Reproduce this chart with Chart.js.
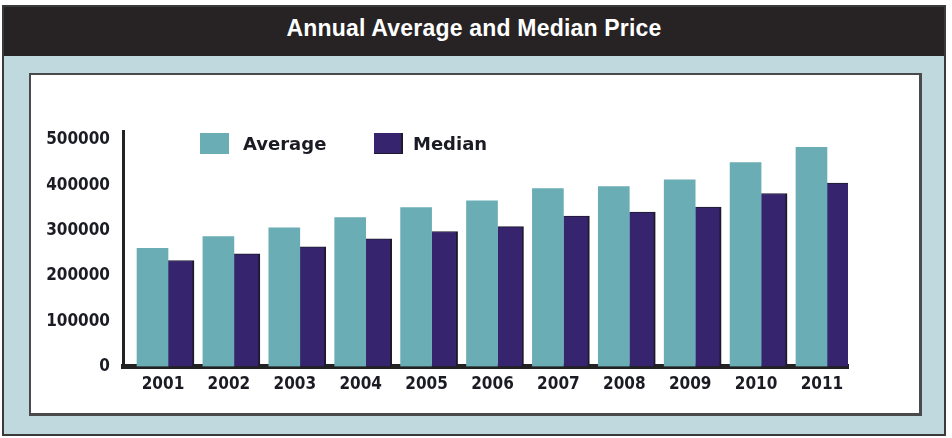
<!DOCTYPE html>
<html>
<head>
<meta charset="utf-8">
<title>Annual Average and Median Price</title>
<script src="https://cdn.jsdelivr.net/npm/chart.js@4"></script>
<style>
  html, body { margin: 0; padding: 0; background: #fff; }
  body { width: 952px; height: 438px; position: relative; overflow: hidden; }
  #frame { position: absolute; left: 2px; top: 5px; width: 940px; height: 427px;
           background: #bfd9de; border: 2px solid #3a3a3a; }
  #header { position: absolute; left: 0; top: 0; width: 940px; height: 49px; background: #272324;
            color: #fff; text-align: center;
            font: bold 23px 'Liberation Sans', Arial, sans-serif; line-height: 42px; letter-spacing: 0.2px; }
  #panel { position: absolute; left: 29px; top: 73px; width: 888px; height: 338px;
           background: #fff; border: 2px solid #4a4a4a; border-right-width: 3px; border-bottom-width: 3px; }
  #wrap { position: absolute; left: 0; top: 0; width: 952px; height: 438px; }
  .legend { position: absolute; top: 133px; height: 21px; display: flex; align-items: center;
            font: bold 18px 'DejaVu Sans', sans-serif; color: #1b1b24; }
  .legend span.box { display: inline-block; width: 29px; height: 21px; margin-right: 14px; }
</style>
</head>
<body>
<div id="frame"><div id="header">Annual Average and Median Price</div></div>
<div id="panel"></div>
<div id="wrap"><canvas id="priceChart"></canvas></div>
<div id="legend"></div>

<script>
const years = [2001, 2002, 2003, 2004, 2005, 2006, 2007, 2008, 2009, 2010, 2011];
const averagePrice = [261000, 287000, 306000, 329000, 351000, 366000, 393000, 397000, 412000, 450000, 484000];
const medianPrice = [234000, 249000, 264000, 282000, 298000, 309000, 332000, 341000, 352000, 382000, 405000];
const seriesNames = ['Average', 'Median'];
const seriesColors = ['#6aadb5', '#36246f'];
const yTicks = [0, 100000, 200000, 300000, 400000, 500000];

const tickFont = { family: "'DejaVu Sans Condensed', 'DejaVu Sans', sans-serif", size: 17, weight: 'bold' };

const ctx = document.getElementById('priceChart').getContext('2d');
const priceChart = new Chart(ctx, {
  type: 'bar',
  data: {
    labels: years,
    datasets: [{
      label: seriesNames[0],
      data: averagePrice,
      backgroundColor: seriesColors[0],
      borderWidth: 0,
      barThickness: 31
    }, {
      label: seriesNames[1],
      data: medianPrice,
      backgroundColor: seriesColors[1],
      borderColor: '#1e1a2c',
      borderWidth: { top: 1, right: 2, left: 0, bottom: 0 },
      borderSkipped: false,
      barThickness: 26
    }]
  },
  options: {
    responsive: true,
    maintainAspectRatio: false,
    animation: false,
    layout: { padding: { top: 131, right: 104, left: 0, bottom: 0 } },
    plugins: {
      legend: { display: false },
      tooltip: { enabled: false }
    },
    scales: {
      x: {
        type: 'linear',
        min: 2000.317,
        max: 2011.319,
        offset: false,
        grid: { display: false, drawTicks: false, offset: false },
        border: { display: true, color: '#222', width: 5 },
        afterBuildTicks: s => { s.ticks = years.map(v => ({ value: v })); },
        ticks: {
          autoSkip: false,
          maxRotation: 0,
          padding: 8,
          labelOffset: -5,
          color: '#1b1b24',
          font: tickFont,
          callback: v => String(v)
        },
        afterFit: s => { s.height = 71.5; }
      },
      y: {
        min: 0,
        max: 520000,
        grid: { display: false, drawTicks: false },
        border: { display: true, color: '#222', width: 3 },
        afterBuildTicks: s => { s.ticks = yTicks.map(v => ({ value: v })); },
        ticks: {
          autoSkip: false,
          padding: 13,
          color: '#1b1b24',
          font: tickFont,
          callback: v => String(v)
        },
        afterFit: s => { s.width = 123; }
      }
    }
  }
});

// legend in the spots used by the original
const legendLeft = [200, 374];
const legendDiv = document.getElementById('legend');
seriesNames.forEach((name, i) => {
  const item = document.createElement('div');
  item.className = 'legend';
  item.style.left = legendLeft[i] + 'px';
  item.innerHTML = '<span class="box" style="background:' + seriesColors[i] + ';' +
    (i === 1 ? 'box-shadow: inset -2px -1px 0 #1e1a2c;margin-right:10px' : '') + '"></span>' + name;
  legendDiv.appendChild(item);
});
</script>
</body>
</html>
